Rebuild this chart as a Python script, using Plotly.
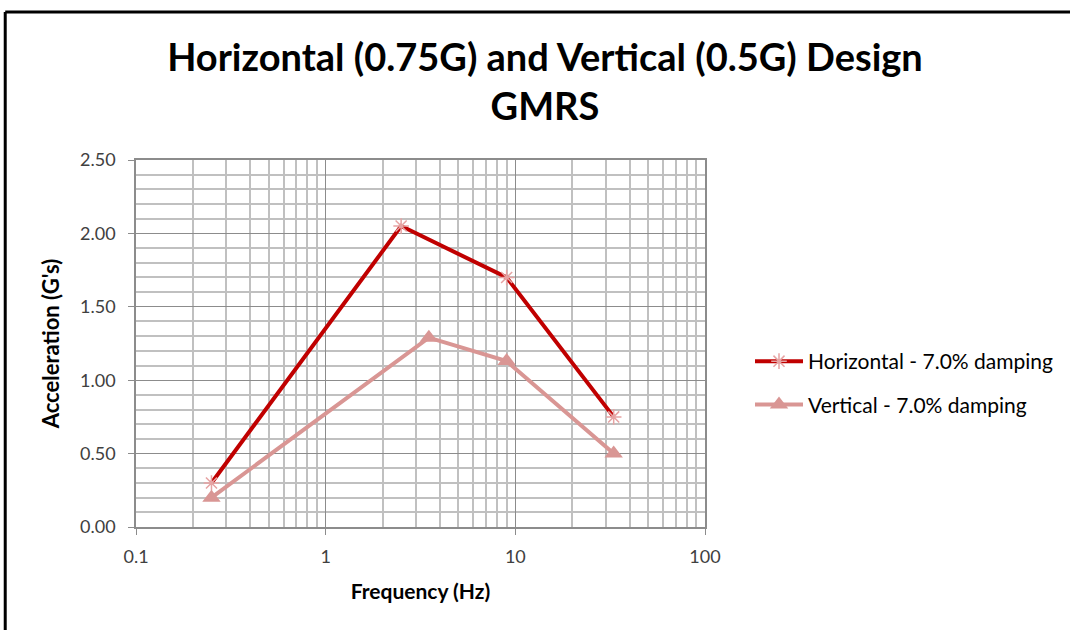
import plotly.graph_objects as go

# Data
freq_h = [0.25, 2.5, 9.0, 33.0]
acc_h = [0.30, 2.05, 1.70, 0.75]
freq_v = [0.25, 3.5, 9.0, 33.0]
acc_v = [0.20, 1.29, 1.13, 0.50]
name_h = "Horizontal - 7.0% damping"
name_v = "Vertical - 7.0% damping"
x_major = [0.1, 1, 10, 100]
x_major_text = ["0.1", "1", "10", "100"]
x_minor = [m * d for d in [0.1, 1, 10] for m in range(2, 10)]

FONT = "Lato"

fig = go.Figure()
fig.add_trace(go.Scatter(
    x=freq_h, y=acc_h, name=name_h, mode="lines+markers",
    line=dict(color="#c00000", width=4),
    marker=dict(symbol="asterisk-open", size=13, color="#e6a3a3",
                line=dict(color="#e6a3a3", width=1.5)),
    legendgroup="h",
))
fig.add_trace(go.Scatter(
    x=freq_v, y=acc_v, name=name_v, mode="lines+markers",
    line=dict(color="#d99694", width=4),
    marker=dict(symbol="triangle-up", size=16, color="#d99694"),
    legendgroup="v",
))

L, R, T, B = 136, 706, 160, 527
W, H = 1070, 630

fig.update_layout(
    width=W, height=H,
    margin=dict(l=L, r=W - R, t=T, b=H - B, pad=0),
    paper_bgcolor="white", plot_bgcolor="white",
    font=dict(family=FONT, color="#404040"),
    title=dict(
        text="<b>Horizontal (0.75G) and Vertical (0.5G) Design<br>GMRS</b>",
        x=545 / W, xanchor="center", y=1 - 71 / H, yanchor="middle",
        font=dict(family=FONT, size=38, color="#000000"),
    ),
    legend=dict(
        x=(750 - L) / (R - L), xanchor="left",
        y=(B - 341) / (B - T), yanchor="top",
        font=dict(family=FONT, size=21, color="#000000"),
        bgcolor="rgba(0,0,0,0)", tracegroupgap=13, traceorder="grouped",
        itemwidth=48,
    ),
    showlegend=True,
)

fig.update_xaxes(
    type="log", range=[-1, 2],
    tickmode="array", tickvals=x_major, ticktext=x_major_text,
    showgrid=True, gridcolor="#8c8c8c", gridwidth=1.3,
    minor=dict(tickmode="array", tickvals=x_minor, showgrid=True,
               gridcolor="#c0c0c0", gridwidth=1.5, ticks=""),
    showline=True, linecolor="#8c8c8c", linewidth=1.5, mirror=True,
    ticks="outside", ticklen=6, tickcolor="#8c8c8c", ticklabelstandoff=7,
    tickfont=dict(family=FONT, size=18, color="#404040"),
    title=dict(text="<b>Frequency (Hz)</b>", standoff=18,
               font=dict(family=FONT, size=21, color="#000000")),
    zeroline=False,
)
fig.update_yaxes(
    range=[0, 2.5], dtick=0.5, tickformat=".2f",
    showgrid=True, gridcolor="#8c8c8c", gridwidth=1.3,
    minor=dict(dtick=0.1, showgrid=True, gridcolor="#c0c0c0", gridwidth=1.5, ticks=""),
    showline=True, linecolor="#8c8c8c", linewidth=1.5, mirror=True,
    ticks="outside", ticklen=6, tickcolor="#8c8c8c", ticklabelstandoff=9,
    tickfont=dict(family=FONT, size=18, color="#404040"),
    title=dict(text="<b>Acceleration (G's)</b>", standoff=14,
               font=dict(family=FONT, size=22, color="#000000")),
    zeroline=False,
)

# Outer chart-area border (top and left edges visible in the reference)
fig.add_shape(type="line", xref="paper", yref="paper",
              x0=(5 - L) / (R - L), x1=(5 - L) / (R - L),
              y0=(B - H - 10) / (B - T), y1=(B - 12) / (B - T),
              line=dict(color="#000000", width=3), layer="above")
fig.add_shape(type="line", xref="paper", yref="paper",
              x0=(5 - L) / (R - L), x1=(W + 10 - L) / (R - L),
              y0=(B - 12) / (B - T), y1=(B - 12) / (B - T),
              line=dict(color="#000000", width=3), layer="above")

fig.write_html("out.html", config={"displayModeBar": False},
               post_script="document.body.style.margin='0';document.body.style.padding='0';")
